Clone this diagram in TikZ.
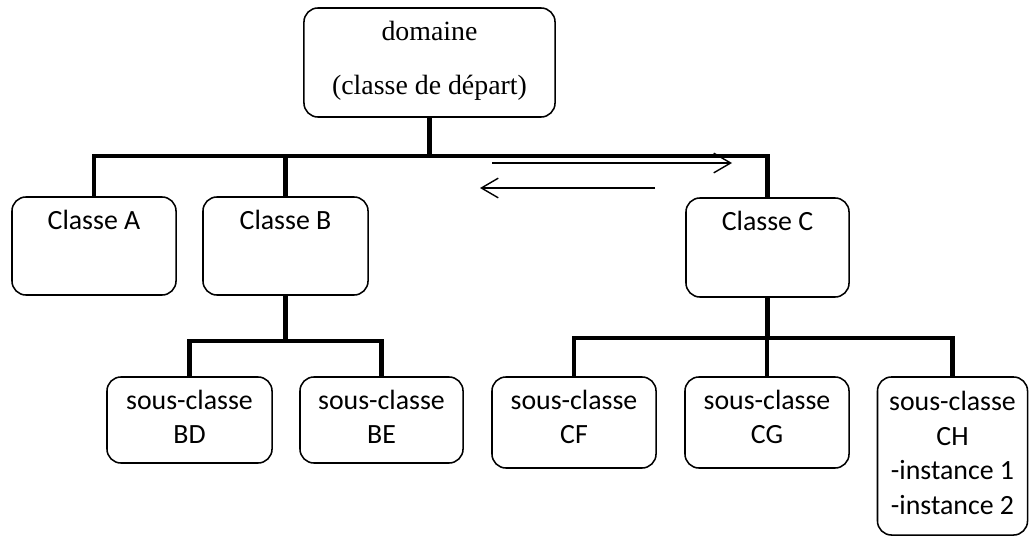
\documentclass[tikz,border=0pt]{standalone}
\usepackage{fontspec}
\setmainfont{Liberation Serif}
\newfontfamily\calib{Carlito}
\usepackage{tikz}
\usetikzlibrary{arrows.meta,positioning}

\begin{document}
\begin{tikzpicture}[
    x=0.025cm, y=-0.025cm,
    box/.style={rectangle, draw, rounded corners=0.35cm, line width=1.1pt,
                inner sep=0pt, minimum width=4.1cm},
    classbox/.style={box, minimum height=2.45cm},
    subbox/.style={box, minimum height=2.2cm},
    lbl/.style={inner sep=0pt, align=center, font=\calib\fontsize{19.8}{24.8}\selectfont},
    tree/.style={line width=3pt},
    arrow/.style={-{Straight Barb[length=12pt,width=14pt]}, line width=1pt}
]
\useasboundingbox (0,0) rectangle (1029,537);
\clip (0,0) rectangle (1029,537);

\node[box, minimum width=6.275cm, minimum height=2.725cm] (dom) at (429.5,62.5) {};
\node[inner sep=0pt, align=center, font=\fontsize{19.8}{39}\selectfont,
      below=0.33cm of dom.north] (dom-lbl) {domaine\\(classe de départ)};

\node[classbox] (ca) at (94,246) {};
\node[classbox, minimum width=4.125cm] (cb) at (285.5,246) {};
\node[classbox, minimum width=4.075cm, minimum height=2.475cm] (cc) at (767.5,247.5) {};

\node[subbox, minimum width=4.125cm, minimum height=2.15cm] (bd) at (189.5,420) {};
\node[subbox, minimum width=4.075cm, minimum height=2.15cm] (be) at (381.5,420) {};
\node[subbox, minimum height=2.275cm] (cf) at (574,422.5) {};
\node[subbox, minimum height=2.275cm] (cg) at (767,422.5) {};
\node[subbox, minimum width=3.75cm, minimum height=3.95cm] (ch) at (952.5,456) {};

\node[lbl, below=0.35cm of ca.north] (ca-lbl) {Classe A};
\node[lbl, below=0.35cm of cb.north] (cb-lbl) {Classe B};
\node[lbl, below=0.35cm of cc.north] (cc-lbl) {Classe C};
\node[lbl, below=0.33cm of bd.north] (bd-lbl) {sous-classe\\BD};
\node[lbl, below=0.33cm of be.north] (be-lbl) {sous-classe\\BE};
\node[lbl, below=0.33cm of cf.north] (cf-lbl) {sous-classe\\CF};
\node[lbl, below=0.33cm of cg.north] (cg-lbl) {sous-classe\\CG};
\node[lbl, below=0.36cm of ch.north] (ch-lbl) {sous-classe\\CH\\-instance 1\\-instance 2};

% tree links
\draw[tree] (ca.north) -- ++(0,-40) coordinate (busA) -| (cc.north);
\draw[tree] (dom.south) -- (dom.south |- busA);
\draw[tree] (cb.north) -- (cb.north |- busA);

\draw[tree] (cb.south) -- ++(0,45) coordinate (busB);
\draw[tree] (bd.north) |- (busB) -| (be.north);

\draw[tree] (cc.south) -- ++(0,40) coordinate (busC);
\draw[tree] (cf.north) |- (busC) -| (ch.north);
\draw[tree] (cg.north) -- (cg.north |- busC);

% navigation arrows
\coordinate (go-a) at (492,163);
\coordinate (go-b) at (732,163);
\coordinate (back-a) at (655,188);
\coordinate (back-b) at (480,188);
\draw[arrow] (go-a) -- (go-b);
\draw[arrow] (back-a) -- (back-b);

\end{tikzpicture}
\end{document}
